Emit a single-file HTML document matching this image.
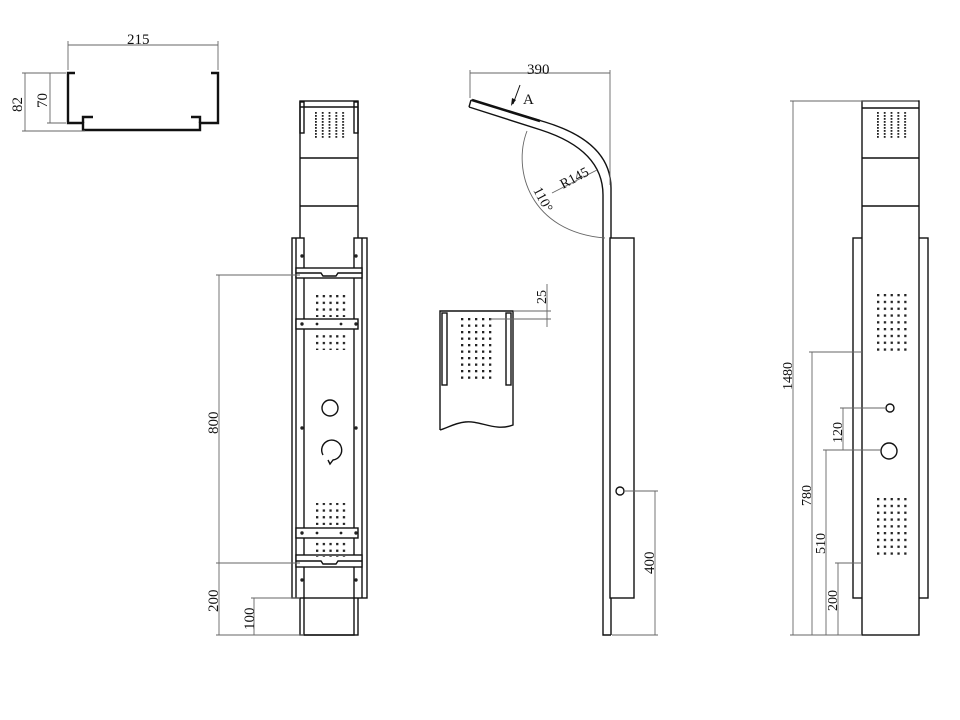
<!DOCTYPE html>
<html><head><meta charset="utf-8"><style>html,body{margin:0;padding:0;background:#fff}svg{display:block}</style></head>
<body>
<svg width="960" height="720" viewBox="0 0 960 720" xmlns="http://www.w3.org/2000/svg" font-family="Liberation Serif, serif">
<defs>
<pattern id="dense" x="315" y="112" width="6.8" height="3" patternUnits="userSpaceOnUse"><rect x="0" y="0" width="1.8" height="1.8" fill="#222"/></pattern>
<pattern id="dense2" x="877" y="112" width="6.8" height="3" patternUnits="userSpaceOnUse"><rect x="0" y="0" width="1.8" height="1.8" fill="#222"/></pattern>
<pattern id="grid" x="316" y="295" width="6.7" height="6.7" patternUnits="userSpaceOnUse"><rect x="0" y="0" width="2.3" height="2.3" fill="#222"/></pattern>
<pattern id="gridR" x="877" y="294" width="6.8" height="6.8" patternUnits="userSpaceOnUse"><rect x="0" y="0" width="2.3" height="2.3" fill="#222"/></pattern>
<pattern id="gridD" x="461" y="318" width="7" height="6.5" patternUnits="userSpaceOnUse"><rect x="0" y="0" width="2.3" height="2.3" fill="#222"/></pattern>
</defs>
<g fill="none" stroke="#111" stroke-width="1.3">
<path d="M75,73 H68 V123 H83 V130 H200 V123 H218 V73 H211" stroke-width="2.4"/>
<path d="M83,123 V117 H93 M200,123 V117 H191" stroke-width="2.4"/>
</g>
<g stroke="#666" stroke-width="0.9" fill="none">
<path d="M68,70 V41 M218,70 V41 M68,45 H218"/>
<path d="M22,73 H66 M22,131 H85 M25,73 V131 M47,123 H66 M50,73 V123"/>
</g>
<g font-size="15" fill="#111">
<text x="127" y="44">215</text>
<text transform="translate(22,112) rotate(-90)">82</text>
<text transform="translate(47,108) rotate(-90)">70</text>
</g>

<g fill="none" stroke="#111" stroke-width="1.4">
<rect x="300" y="101" width="58" height="534"/>
<line x1="300" y1="107" x2="358" y2="107"/>
<rect x="300" y="102" width="4" height="31"/>
<rect x="354" y="102" width="4" height="31"/>
<line x1="300" y1="158" x2="358" y2="158"/>
<line x1="300" y1="206" x2="358" y2="206"/>
<rect x="292" y="238" width="12" height="360" fill="#fff"/>
<line x1="296" y1="238" x2="296" y2="598"/>
<rect x="354" y="238" width="13" height="360" fill="#fff"/>
<line x1="362" y1="238" x2="362" y2="598"/>
<rect x="296" y="268" width="66" height="10" fill="#fff"/>
<path d="M296,273 H321 L323,276 H336 L338,273 H362"/>
<rect x="296" y="319" width="62" height="10" fill="#fff"/>
<rect x="296" y="528" width="62" height="10" fill="#fff"/>
<rect x="296" y="555" width="66" height="12" fill="#fff"/>
<path d="M296,561 H321 L323,564 H336 L338,561 H362"/>
<rect x="304" y="598" width="50" height="37"/>
<circle cx="330" cy="408" r="8"/>
<path d="M323,455 A10,10 0 1 1 333,460 L330,464 L328,460"/>
</g>
<rect x="315" y="112" width="30" height="26" fill="url(#dense)"/>
<rect x="316" y="295" width="30" height="22" fill="url(#grid)"/>
<rect x="316" y="335" width="30" height="15" fill="url(#grid)"/>
<rect x="316" y="503" width="30" height="22" fill="url(#grid)"/>
<rect x="316" y="542" width="30" height="15" fill="url(#grid)"/>
<g fill="#222">
<circle cx="302" cy="256" r="1.7"/><circle cx="356" cy="256" r="1.7"/>
<circle cx="302" cy="324" r="1.7"/><circle cx="317" cy="324" r="1.4"/><circle cx="341" cy="324" r="1.4"/><circle cx="356" cy="324" r="1.7"/>
<circle cx="302" cy="428" r="1.7"/><circle cx="356" cy="428" r="1.7"/>
<circle cx="302" cy="533" r="1.7"/><circle cx="317" cy="533" r="1.4"/><circle cx="341" cy="533" r="1.4"/><circle cx="356" cy="533" r="1.7"/>
<circle cx="302" cy="580" r="1.7"/><circle cx="356" cy="580" r="1.7"/>
</g>
<g stroke="#666" stroke-width="0.9" fill="none">
<path d="M216,275 H300 M219,275 V635 M216,563 H300 M216,635 H304 M251,598 H300 M254,598 V635"/>
</g>
<g font-size="15" fill="#111">
<text transform="translate(218,434) rotate(-90)">800</text>
<text transform="translate(218,612) rotate(-90)">200</text>
<text transform="translate(254,630) rotate(-90)">100</text>
</g>

<g fill="none" stroke="#111" stroke-width="1.4">
<path d="M471,100 L545,122 Q611,142 611,188 V635"/>
<path d="M469,107 L541,130 Q603,150 603,195 V635 H611"/>
<path d="M471,100 L469,107"/>
<path d="M472,100 L540,121" stroke-width="2.6"/>
<rect x="610" y="238" width="24" height="360" fill="#fff"/>
<circle cx="620" cy="491" r="4"/>
</g>
<g stroke="#666" stroke-width="0.9" fill="none">
<path d="M470,70 V98 M610,70 V185 M470,73 H610"/>
<path d="M527,131 C512,170 530,232 605,238"/>
<path d="M552,193 L597,170"/>
<path d="M624,491 H658 M612,635 H658 M655,491 V635"/>
</g>
<path d="M520,85 L513,104" stroke="#111" stroke-width="1"/>
<path d="M511,106 L512,98 L516,100 Z" fill="#111"/>
<g font-size="15" fill="#111">
<text x="527" y="74">390</text>
<text x="523" y="104">A</text>
<text transform="translate(563,189) rotate(-28)" font-size="14">R145</text>
<text transform="translate(533,190) rotate(62)" font-size="14">110°</text>
<text transform="translate(654,574) rotate(-90)">400</text>
</g>

<g fill="none" stroke="#111" stroke-width="1.4">
<path d="M440,430 V311 H513 V425 C495,432 480,420 465,422 C455,423 447,428 440,430"/>
<rect x="442" y="313" width="5" height="72"/>
<rect x="506" y="313" width="5" height="72"/>
</g>
<rect x="461" y="318" width="32" height="63" fill="url(#gridD)"/>
<g stroke="#666" stroke-width="0.9" fill="none">
<path d="M513,311 H551 M490,319 H551 M547,284 V327"/>
</g>
<text transform="translate(546,304) rotate(-90)" font-size="14" fill="#111">25</text>

<g fill="none" stroke="#111" stroke-width="1.4">
<rect x="853" y="238" width="75" height="360"/>
<rect x="862" y="101" width="57" height="534" fill="#fff"/>
<line x1="862" y1="108" x2="919" y2="108"/>
<line x1="862" y1="158" x2="919" y2="158"/>
<line x1="862" y1="206" x2="919" y2="206"/>
<circle cx="890" cy="408" r="4"/>
<circle cx="889" cy="451" r="8"/>
</g>
<rect x="877" y="112" width="32" height="26" fill="url(#dense2)"/>
<rect x="877" y="294" width="32" height="60" fill="url(#gridR)"/>
<rect x="877" y="497" width="32" height="60" fill="url(#gridR)"/>
<g stroke="#666" stroke-width="0.9" fill="none">
<path d="M790,101 H918 M793,101 V635 M790,635 H862"/>
<path d="M809,352 H862 M812,352 V635"/>
<path d="M823,450 H881 M826,450 V635"/>
<path d="M840,408 H886 M843,408 V450"/>
<path d="M835,563 H862 M838,563 V635"/>
</g>
<g font-size="14" fill="#111">
<text transform="translate(792,390) rotate(-90)">1480</text>
<text transform="translate(811,506) rotate(-90)">780</text>
<text transform="translate(825,554) rotate(-90)">510</text>
<text transform="translate(842,443) rotate(-90)">120</text>
<text transform="translate(837,611) rotate(-90)">200</text>
</g>
</svg>
</body></html>
